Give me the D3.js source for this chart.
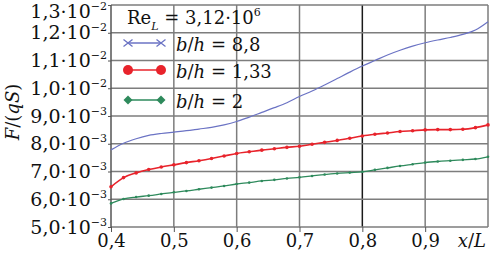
<!DOCTYPE html>
<html>
<head>
<meta charset="utf-8">
<script src="https://cdn.jsdelivr.net/npm/d3@7"></script>
<style>
  html, body { margin: 0; padding: 0; background: #fff; overflow: hidden; }
  svg { display: block; }
  svg text { font-family: "DejaVu Serif", "Liberation Serif", serif; fill: #111; }
</style>
</head>
<body>
<div id="chart"></div>
<script>
// x/L positions and F/(qS) values (in units of 1e-3)
const xValues = [0.40, 0.42, 0.44, 0.46, 0.48, 0.50, 0.52, 0.54, 0.56, 0.58,
                 0.60, 0.62, 0.64, 0.66, 0.68, 0.70, 0.72, 0.74, 0.76, 0.78,
                 0.80, 0.82, 0.84, 0.86, 0.88, 0.90, 0.92, 0.94, 0.96, 0.98, 1.00];
const series88 = [7.78, 8.02, 8.18, 8.30, 8.37, 8.42, 8.47, 8.53, 8.59, 8.68,
                  8.80, 8.96, 9.13, 9.30, 9.48, 9.70, 9.90, 10.12, 10.35, 10.58,
                  10.80, 11.00, 11.20, 11.37, 11.52, 11.64, 11.74, 11.83, 11.94, 12.10, 12.40];
const series133 = [6.45, 6.78, 6.95, 7.07, 7.16, 7.24, 7.32, 7.39, 7.47, 7.56,
                   7.65, 7.71, 7.77, 7.82, 7.87, 7.91, 7.98, 8.05, 8.12, 8.20,
                   8.28, 8.34, 8.39, 8.44, 8.47, 8.50, 8.51, 8.51, 8.52, 8.58, 8.68];
const series2 = [5.85, 6.01, 6.08, 6.13, 6.19, 6.25, 6.30, 6.36, 6.42, 6.48,
                 6.55, 6.60, 6.66, 6.70, 6.75, 6.79, 6.84, 6.89, 6.93, 6.96,
                 6.99, 7.06, 7.13, 7.20, 7.26, 7.32, 7.36, 7.39, 7.42, 7.45, 7.53];

const xTicks = [0.4, 0.5, 0.6, 0.7, 0.8, 0.9];
const xTickLabels = ["0,4", "0,5", "0,6", "0,7", "0,8", "0,9"];
const yTicks = [5, 6, 7, 8, 9, 10, 11, 12, 13];
const yTickLabels = [["5,0", "−3"], ["6,0", "−3"], ["7,0", "−3"], ["8,0", "−3"], ["9,0", "−3"],
                     ["1,0", "−2"], ["1,1", "−2"], ["1,2", "−2"], ["1,3", "−2"]];

const width = 493, height = 254;
const margin = { top: 5, right: 5, bottom: 27, left: 111 };
const innerWidth = width - margin.left - margin.right;
const innerHeight = height - margin.top - margin.bottom;
const FONT = "DejaVu Serif, Liberation Serif, serif";

const svg = d3.select("#chart").append("svg")
    .attr("width", width)
    .attr("height", height);

const g = svg.append("g").attr("transform", `translate(${margin.left},${margin.top})`);

const xScale = d3.scaleLinear().domain([0.4, 1.0]).range([0, innerWidth]);
const yScale = d3.scaleLinear().domain([5, 13]).range([innerHeight, 0]);

// grid
g.selectAll(".vgrid").data(xTicks.slice(1).concat([1.0]))
    .enter().append("line")
    .attr("x1", d => xScale(d)).attr("x2", d => xScale(d))
    .attr("y1", 0).attr("y2", innerHeight)
    .attr("stroke", d => Math.abs(d - 0.8) < 1e-9 ? "#1a1a1a" : "#7d7d7d")
    .attr("stroke-width", 1.5);
g.selectAll(".hgrid").data(yTicks)
    .enter().append("line")
    .attr("x1", 0).attr("x2", innerWidth)
    .attr("y1", d => yScale(d)).attr("y2", d => yScale(d))
    .attr("stroke", "#7d7d7d")
    .attr("stroke-width", 1.5);
// left frame
g.append("line").attr("x1", 0).attr("x2", 0).attr("y1", 0).attr("y2", innerHeight)
    .attr("stroke", "#555").attr("stroke-width", 1.5);

// axis ticks
const xAxis = g.append("g").attr("transform", `translate(0,${innerHeight})`)
    .call(d3.axisBottom(xScale).tickValues(xTicks).tickSize(5).tickFormat((d, i) => xTickLabels[i]));
xAxis.attr("font-family", FONT);
xAxis.select(".domain").remove();
xAxis.selectAll(".tick line").attr("stroke", "#555");
xAxis.selectAll("text").attr("font-size", 18).attr("dy", 0).attr("y", 20)
    .attr("font-family", FONT).attr("fill", "#111");

const yAxis = g.append("g")
    .call(d3.axisLeft(yScale).tickValues(yTicks).tickSize(3).tickFormat(""));
yAxis.attr("font-family", FONT);
yAxis.select(".domain").remove();
yAxis.selectAll(".tick line").attr("stroke", "#555");
yAxis.selectAll(".tick").each(function(d, i) {
    const base = Math.max(yScale(d) + 6, 12) - yScale(d);
    const t = d3.select(this).append("text")
        .attr("x", -4).attr("y", base)
        .attr("text-anchor", "end")
        .attr("font-size", 19)
        .attr("font-family", FONT)
        .attr("fill", "#111");
    t.append("tspan").text(yTickLabels[i][0] + "·10");
    t.append("tspan").attr("font-size", 11).attr("dy", -8).text(yTickLabels[i][1]);
});

// series
const colBlue = "#6b73c4", colRed = "#e8232b", colGreen = "#2e8a5c";
const line = d3.line().x(d => xScale(d[0])).y(d => yScale(d[1])).curve(d3.curveMonotoneX);
function drawSeries(values, color, lw, r) {
    const pts = xValues.map((x, i) => [x, values[i]]);
    g.append("path").datum(pts)
        .attr("fill", "none").attr("stroke", color).attr("stroke-width", lw)
        .attr("d", line);
    if (r > 0) {
        g.selectAll(null).data(pts).enter().append("circle")
            .attr("cx", d => xScale(d[0])).attr("cy", d => yScale(d[1]))
            .attr("r", r).attr("fill", color);
    }
}
drawSeries(series88, colBlue, 1.2, 0);
drawSeries(series133, colRed, 1.6, 1.8);
drawSeries(series2, colGreen, 1.3, 1.3);

// legend
svg.append("text").attr("x", 127).attr("y", 24).attr("font-size", 18).attr("font-family", FONT)
    .call(t => {
        t.append("tspan").text("Re");
        t.append("tspan").attr("font-size", 11).attr("font-style", "italic").attr("dy", 6).text("L");
        t.append("tspan").attr("dy", -6).text(" = 3,12·10");
        t.append("tspan").attr("font-size", 11).attr("dy", -8).text("6");
    });

const legendItems = [
    { label: "8,8", color: colBlue, y: 43, marker: "x" },
    { label: "1,33", color: colRed, y: 70, marker: "circle" },
    { label: "2", color: colGreen, y: 100, marker: "diamond" }
];
legendItems.forEach(item => {
    const lg = svg.append("g");
    lg.append("line").attr("x1", 128).attr("x2", 161).attr("y1", item.y).attr("y2", item.y)
        .attr("stroke", item.color).attr("stroke-width", 1.3);
    [128, 161].forEach(cx => {
        if (item.marker === "x") {
            lg.append("path").attr("d", `M${cx - 4.5},${item.y - 3.5}L${cx + 4.5},${item.y + 3.5}M${cx - 4.5},${item.y + 3.5}L${cx + 4.5},${item.y - 3.5}`)
                .attr("stroke", item.color).attr("stroke-width", 1.3);
        } else if (item.marker === "circle") {
            lg.append("circle").attr("cx", cx).attr("cy", item.y).attr("r", 5).attr("fill", item.color);
        } else {
            lg.append("path").attr("d", `M${cx},${item.y - 4.5}L${cx + 4.5},${item.y}L${cx},${item.y + 4.5}L${cx - 4.5},${item.y}Z`)
                .attr("fill", item.color);
        }
    });
    lg.append("text").attr("x", 176).attr("y", item.y + 8).attr("font-size", 18).attr("font-family", FONT)
        .call(t => {
            t.append("tspan").attr("font-style", "italic").text("b");
            t.append("tspan").text("/");
            t.append("tspan").attr("font-style", "italic").text("h");
            t.append("tspan").text(" = " + item.label);
        });
});

// axis titles
svg.append("text").attr("x", 486).attr("y", 247).attr("text-anchor", "end").attr("font-size", 18).attr("font-family", FONT)
    .call(t => {
        t.append("tspan").attr("font-style", "italic").text("x");
        t.append("tspan").text("/");
        t.append("tspan").attr("font-style", "italic").text("L");
    });
svg.append("text").attr("transform", "translate(19,112) rotate(-90)").attr("text-anchor", "middle").attr("font-size", 18).attr("font-family", FONT)
    .call(t => {
        t.append("tspan").attr("font-style", "italic").text("F");
        t.append("tspan").text("/(");
        t.append("tspan").attr("font-style", "italic").text("qS");
        t.append("tspan").text(")");
    });
</script>
</body>
</html>
